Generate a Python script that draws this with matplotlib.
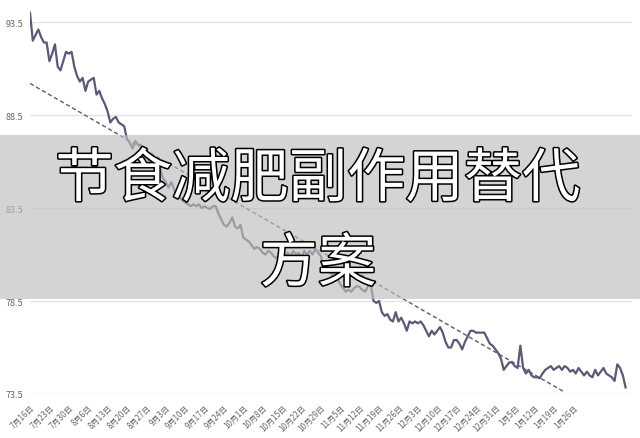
import matplotlib
matplotlib.use('Agg')
import matplotlib.pyplot as plt
import matplotlib.patheffects as pe
from matplotlib.patches import Rectangle

plt.rcParams['font.family'] = ['Noto Sans CJK SC', 'DejaVu Sans']

# 体重数据（每天一个点）
weight = [94.0, 92.5, 92.8, 93.1, 92.7, 92.4, 92.4, 91.4, 91.8, 92.3,
          91.1, 90.9, 91.4, 91.9, 91.8, 91.9, 91.1, 90.6, 90.3, 90.5,
          89.8, 90.3, 90.4, 90.5, 89.6, 89.8, 89.4, 89.1, 88.7, 88.1,
          88.3, 88.4, 88.1, 88.0, 87.9, 87.2, 87.0, 86.7, 87.1, 86.9,
          86.9, 86.1, 86.3, 86.0, 86.4, 86.2, 86.1, 85.6, 85.1, 84.9,
          84.6, 84.9, 84.5, 84.0, 84.1, 83.9, 83.8, 83.7, 83.6, 83.7,
          83.6, 83.7, 83.5, 83.6, 83.5, 83.45, 83.6, 83.6, 83.2, 82.9,
          82.6, 82.5, 82.7, 83.0, 82.5, 82.4, 82.6, 81.9, 81.8, 81.7,
          81.5, 81.3, 81.4, 81.3, 81.1, 81.0, 81.2, 81.1, 80.9, 80.8,
          81.0, 81.2, 80.9, 81.1, 80.9, 81.2, 81.0, 81.1, 80.8, 81.2,
          81.0, 81.2, 81.0, 81.3, 81.1, 80.9, 80.4, 80.5, 80.1, 79.9,
          80.0, 79.7, 79.4, 79.2, 79.0, 79.1, 79.0, 79.2, 79.3, 79.25,
          79.1, 79.0, 79.3, 79.4, 78.5, 78.4, 78.5, 77.9, 77.7, 77.8,
          77.5, 77.4, 77.9, 77.4, 77.6, 77.3, 76.9, 77.4, 77.3, 77.4,
          77.3, 77.4, 77.2, 76.9, 76.6, 76.9, 76.7, 76.9, 77.1, 76.8,
          76.3, 76.0, 76.0, 76.4, 76.4, 76.2, 75.9, 76.3, 76.6, 76.9,
          76.9, 76.8, 76.8, 76.8, 76.8, 76.5, 76.2, 76.1, 75.9, 75.7,
          75.4, 74.8, 75.0, 75.2, 75.2, 75.0, 74.9, 76.1, 74.9, 74.6,
          74.8, 74.5, 74.4, 74.4, 74.35, 74.6, 74.8, 74.9, 75.0, 74.8,
          74.9, 75.0, 74.8, 75.0, 74.9, 74.7, 74.8, 74.6, 74.9, 74.7,
          74.5, 74.7, 74.5, 74.4, 74.8, 74.5, 74.7, 74.9, 74.6, 74.5,
          74.4, 74.2, 75.1, 74.9, 74.5, 73.85]

# 趋势线（起点、终点）
trend_x = [0, 193]
trend_y = [90.2, 73.6]

date_labels = ['7月16日', '7月23日', '7月30日', '8月6日', '8月13日', '8月20日',
               '8月27日', '9月3日', '9月10日', '9月17日', '9月24日', '10月1日',
               '10月8日', '10月15日', '10月22日', '10月29日', '11月5日', '11月12日',
               '11月19日', '11月26日', '12月3日', '12月10日', '12月17日', '12月24日',
               '12月31日', '1月5日', '1月12日', '1月19日', '1月26日']
yticks = [73.5, 78.5, 83.5, 88.5, 93.5]

title_line1 = '节食减肥副作用替代'
title_line2 = '方案'

fig = plt.figure(figsize=[6.4, 4.39], dpi=100)
ax = fig.add_axes([30/640, 44/439, 602/640, 395/439])

x = range(len(weight))
ax.plot(x, weight, color='#5a5a78', lw=1.6, zorder=3)
ax.plot(trend_x, trend_y, color='#5a5a6a', lw=1.0, ls=(0, (3, 2)), zorder=3)

ax.set_xlim(0, 217.3)
ax.set_ylim(73.5, 94.74)
ax.set_yticks(yticks)
ax.set_yticklabels(['%.1f' % v for v in yticks], fontsize=6.5, color='#666666')
ax.set_xticks(range(0, 7*len(date_labels), 7))
ax.set_xticklabels(date_labels, rotation=45, ha='right', rotation_mode='anchor',
                   fontsize=5.8, color='#666666')
ax.tick_params(axis='both', length=0)
ax.tick_params(axis='x', pad=6)
ax.tick_params(axis='y', pad=5)
ax.grid(axis='y', color='#e3e3e3', lw=1)
for s in ax.spines.values():
    s.set_visible(False)

# 灰色横条和标题
fig.add_artist(Rectangle((0, 139/439), 1, 164/439, transform=fig.transFigure,
                         facecolor='#bebebe', alpha=0.66, edgecolor='none', zorder=5))
fx = [pe.Stroke(linewidth=2.2, foreground='black'), pe.Normal()]
fig.text(318/640, 1 - 181/439, title_line1, fontsize=42, color='white',
         ha='center', va='center', zorder=6, path_effects=fx)
fig.text(318/640, 1 - 266/439, title_line2, fontsize=42, color='white',
         ha='center', va='center', zorder=6, path_effects=fx)

plt.savefig('out.png', dpi=100)
